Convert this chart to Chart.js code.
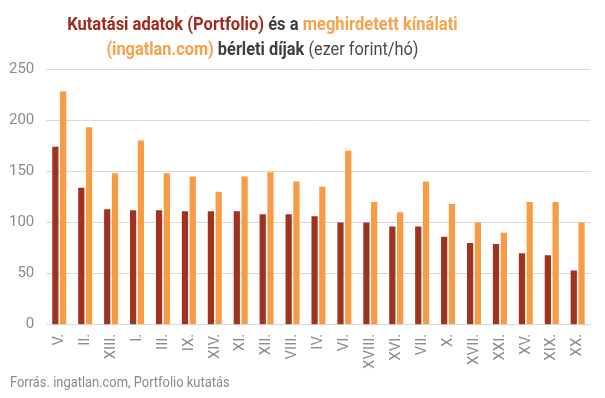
<!DOCTYPE html>
<html>
<head>
<meta charset="utf-8">
<script src="https://cdn.jsdelivr.net/npm/chart.js@4"></script>
<style>
  body { margin: 0; background: #fff; font-family: Roboto, sans-serif; }
  #wrap { position: relative; width: 605px; height: 398px; }
  #title {
    position: absolute; left: 0; top: 11px; width: 524px;
    text-align: center; font-size: 19px; line-height: 25px;
    color: #3f3f3f; font-weight: bold;
  }
  #title .fit { display: inline-block; transform: scaleX(0.86); transform-origin: center; white-space: nowrap; }
  #title .first { transform: scaleX(0.87); }
  #title .dark { color: #9d2b1d; }
  #title .light { color: #f7a14b; }
  #title .normal { font-weight: normal; color: #4a4a4a; }
  #source {
    position: absolute; left: 10px; top: 374px; font-size: 14.5px;
    color: #8a8a8a; transform: scaleX(0.89); transform-origin: left;
    white-space: nowrap;
  }
</style>
</head>
<body>
<div id="wrap">
  <canvas id="chart" width="605" height="398"></canvas>
  <div id="title">
    <span class="fit first"><span class="dark">Kutatási adatok (Portfolio)</span> és a <span class="light">meghirdetett kínálati</span></span><br>
    <span class="fit"><span class="light">(ingatlan.com)</span> bérleti díjak <span class="normal">(ezer forint/hó)</span></span>
  </div>
  <div id="source">Forrás. ingatlan.com, Portfolio kutatás</div>
</div>
<script>
const districts = ["V.", "II.", "XIII.", "I.", "III.", "IX.", "XIV.", "XI.", "XII.", "VIII.", "IV.",
  "VI.", "XVIII.", "XVI.", "VII.", "X.", "XVII.", "XXI.", "XV.", "XIX.", "XX."];

const portfolio = [174, 134, 113, 112, 112, 111, 111, 111, 108, 108, 106,
  100, 100, 96, 96, 86, 80, 79, 70, 68, 53];

const ingatlan = [228, 193, 148, 180, 148, 145, 130, 145, 149, 140, 135,
  170, 120, 110, 140, 118, 100, 90, 120, 120, 100];

const yTicks = [0, 50, 100, 150, 200, 250];

const ctx = document.getElementById("chart");

new Chart(ctx, {
  type: "bar",
  data: {
    labels: districts,
    datasets: [
      {
        label: "Portfolio",
        data: portfolio,
        backgroundColor: "#a03222",
      },
      {
        label: "ingatlan.com",
        data: ingatlan,
        backgroundColor: "#f79b45",
      },
    ],
  },
  options: {
    responsive: false,
    animation: false,
    categoryPercentage: 0.6,
    barPercentage: 0.8,
    layout: {
      padding: { top: 69, right: 14, bottom: 20, left: -3 },
    },
    plugins: {
      legend: { display: false },
      tooltip: { enabled: false },
    },
    scales: {
      x: {
        grid: { display: false, drawTicks: false },
        border: { color: "#d9d9d9" },
        ticks: {
          color: "#8c8c8c",
          font: { family: "Roboto", size: 15 },
          maxRotation: 90,
          minRotation: 90,
          padding: 9,
          autoSkip: false,
        },
      },
      y: {
        min: 0,
        max: 250,
        afterBuildTicks: (axis) => {
          axis.ticks = yTicks.map((v) => ({ value: v }));
        },
        grid: { color: "#d9d9d9", drawTicks: false },
        border: { display: false },
        ticks: {
          color: "#8c8c8c",
          font: { family: "Roboto", size: 15 },
          padding: 12,
        },
      },
    },
  },
});
</script>
</body>
</html>
